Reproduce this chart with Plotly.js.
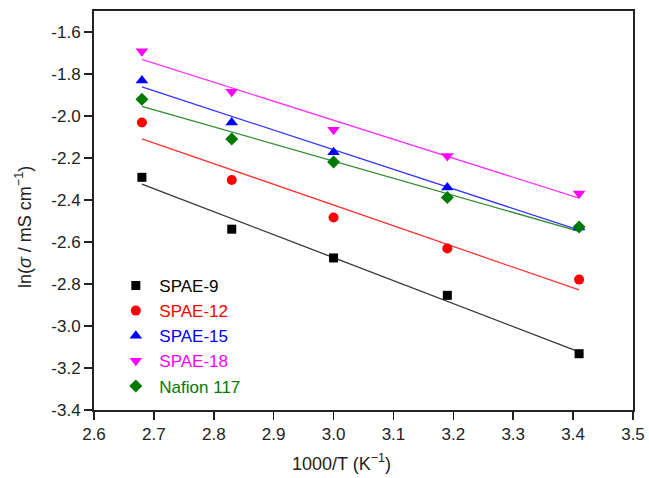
<!DOCTYPE html>
<html>
<head>
<meta charset="utf-8">
<script src="https://cdn.plot.ly/plotly-3.0.1.min.js"></script>
<style>html,body{margin:0;padding:0;background:#fff;}#chart{width:649px;height:478px;}</style>
</head>
<body>
<div id="chart"></div>
<script>
var invT = [2.68, 2.83, 3.00, 3.19, 3.41];
var seriesNames = ["SPAE-9", "SPAE-12", "SPAE-15", "SPAE-18", "Nafion 117"];
var spae9  = [-2.292, -2.539, -2.676, -2.854, -3.132];
var spae12 = [-2.031, -2.305, -2.483, -2.631, -2.779];
var spae15 = [-1.831, -2.031, -2.173, -2.340, -2.531];
var spae18 = [-1.692, -1.884, -2.066, -2.190, -2.369];
var nafion = [-1.920, -2.109, -2.219, -2.388, -2.528];
var xTicks = [2.6, 2.7, 2.8, 2.9, 3.0, 3.1, 3.2, 3.3, 3.4, 3.5];
var yTicks = [-3.4, -3.2, -3.0, -2.8, -2.6, -2.4, -2.2, -2.0, -1.8, -1.6];
var xTitle = "1000/T (K<sup>−1</sup>)";
var yTitle = "ln(<i>σ</i> / mS cm<sup>−1</sup>)";

var values = [spae9, spae12, spae15, spae18, nafion];
var markerColors = ["#000000", "#ff0000", "#0000ff", "#ff00ff", "#007a00"];
var lineColors = ["#333333", "#ff3333", "#3333ff", "#ff33ff", "#2e8b2e"];
var symbols = ["square", "circle", "triangle-up", "triangle-down", "diamond"];
var sizes = [9, 10, 11, 11, 10];

function fit(xs, ys) {
  var n = xs.length, sx = 0, sy = 0, sxx = 0, sxy = 0;
  for (var i = 0; i < n; i++) { sx += xs[i]; sy += ys[i]; sxx += xs[i]*xs[i]; sxy += xs[i]*ys[i]; }
  var b = (n*sxy - sx*sy) / (n*sxx - sx*sx);
  var a = (sy - b*sx) / n;
  return xs.map(function (x) { return a + b*x; });
}

var traces = [];
values.forEach(function (ys, k) {
  traces.push({
    x: invT, y: fit(invT, ys), mode: "lines", showlegend: false, hoverinfo: "skip",
    line: {color: lineColors[k], width: 1.3}
  });
});
values.forEach(function (ys, k) {
  traces.push({
    x: invT, y: ys, mode: "markers",
    name: '<span style="color:' + markerColors[k] + '">' + seriesNames[k] + '</span>',
    marker: {symbol: symbols[k], size: sizes[k], color: markerColors[k], line: {width: 0}}
  });
});

var fam = "Liberation Sans, Arial, sans-serif";
var layout = {
  width: 649, height: 478,
  margin: {l: 94, r: 16, t: 11, b: 68},
  paper_bgcolor: "#fff", plot_bgcolor: "#fff",
  font: {family: fam, size: 17, color: "#222"},
  showlegend: true,
  legend: {
    x: 0.034, y: 0.356, xanchor: "left", yanchor: "top",
    bgcolor: "rgba(0,0,0,0)", borderwidth: 0, itemwidth: 37,
    font: {family: fam, size: 17},
    traceorder: "normal"
  },
  xaxis: {
    range: [2.6, 3.5], tickvals: xTicks, ticktext: xTicks.map(function (v) { return v.toFixed(1); }),
    showgrid: false, zeroline: false, showline: true, linecolor: "#222", linewidth: 2, mirror: true,
    ticks: "outside", ticklen: 8, tickwidth: 1.5, tickcolor: "#222"
  },
  yaxis: {
    range: [-3.4, -1.5], tickvals: yTicks, ticktext: yTicks.map(function (v) { return v.toFixed(1); }),
    showgrid: false, zeroline: false, showline: true, linecolor: "#222", linewidth: 2, mirror: true,
    ticks: "outside", ticklen: 8, tickwidth: 1.5, tickcolor: "#222"
  },
  annotations: [
    {text: xTitle, xref: "paper", yref: "paper", x: 0.4583, y: -0.1328, xanchor: "center", yanchor: "middle",
     showarrow: false, font: {family: fam, size: 18, color: "#222"}},
    {text: yTitle, xref: "paper", yref: "paper", x: -0.1317, y: 0.4586, xanchor: "center", yanchor: "middle",
     textangle: -90, showarrow: false, font: {family: fam, size: 18, color: "#222"}}
  ]
};

Plotly.newPlot("chart", traces, layout, {displayModeBar: false, staticPlot: true});
</script>
</body>
</html>
